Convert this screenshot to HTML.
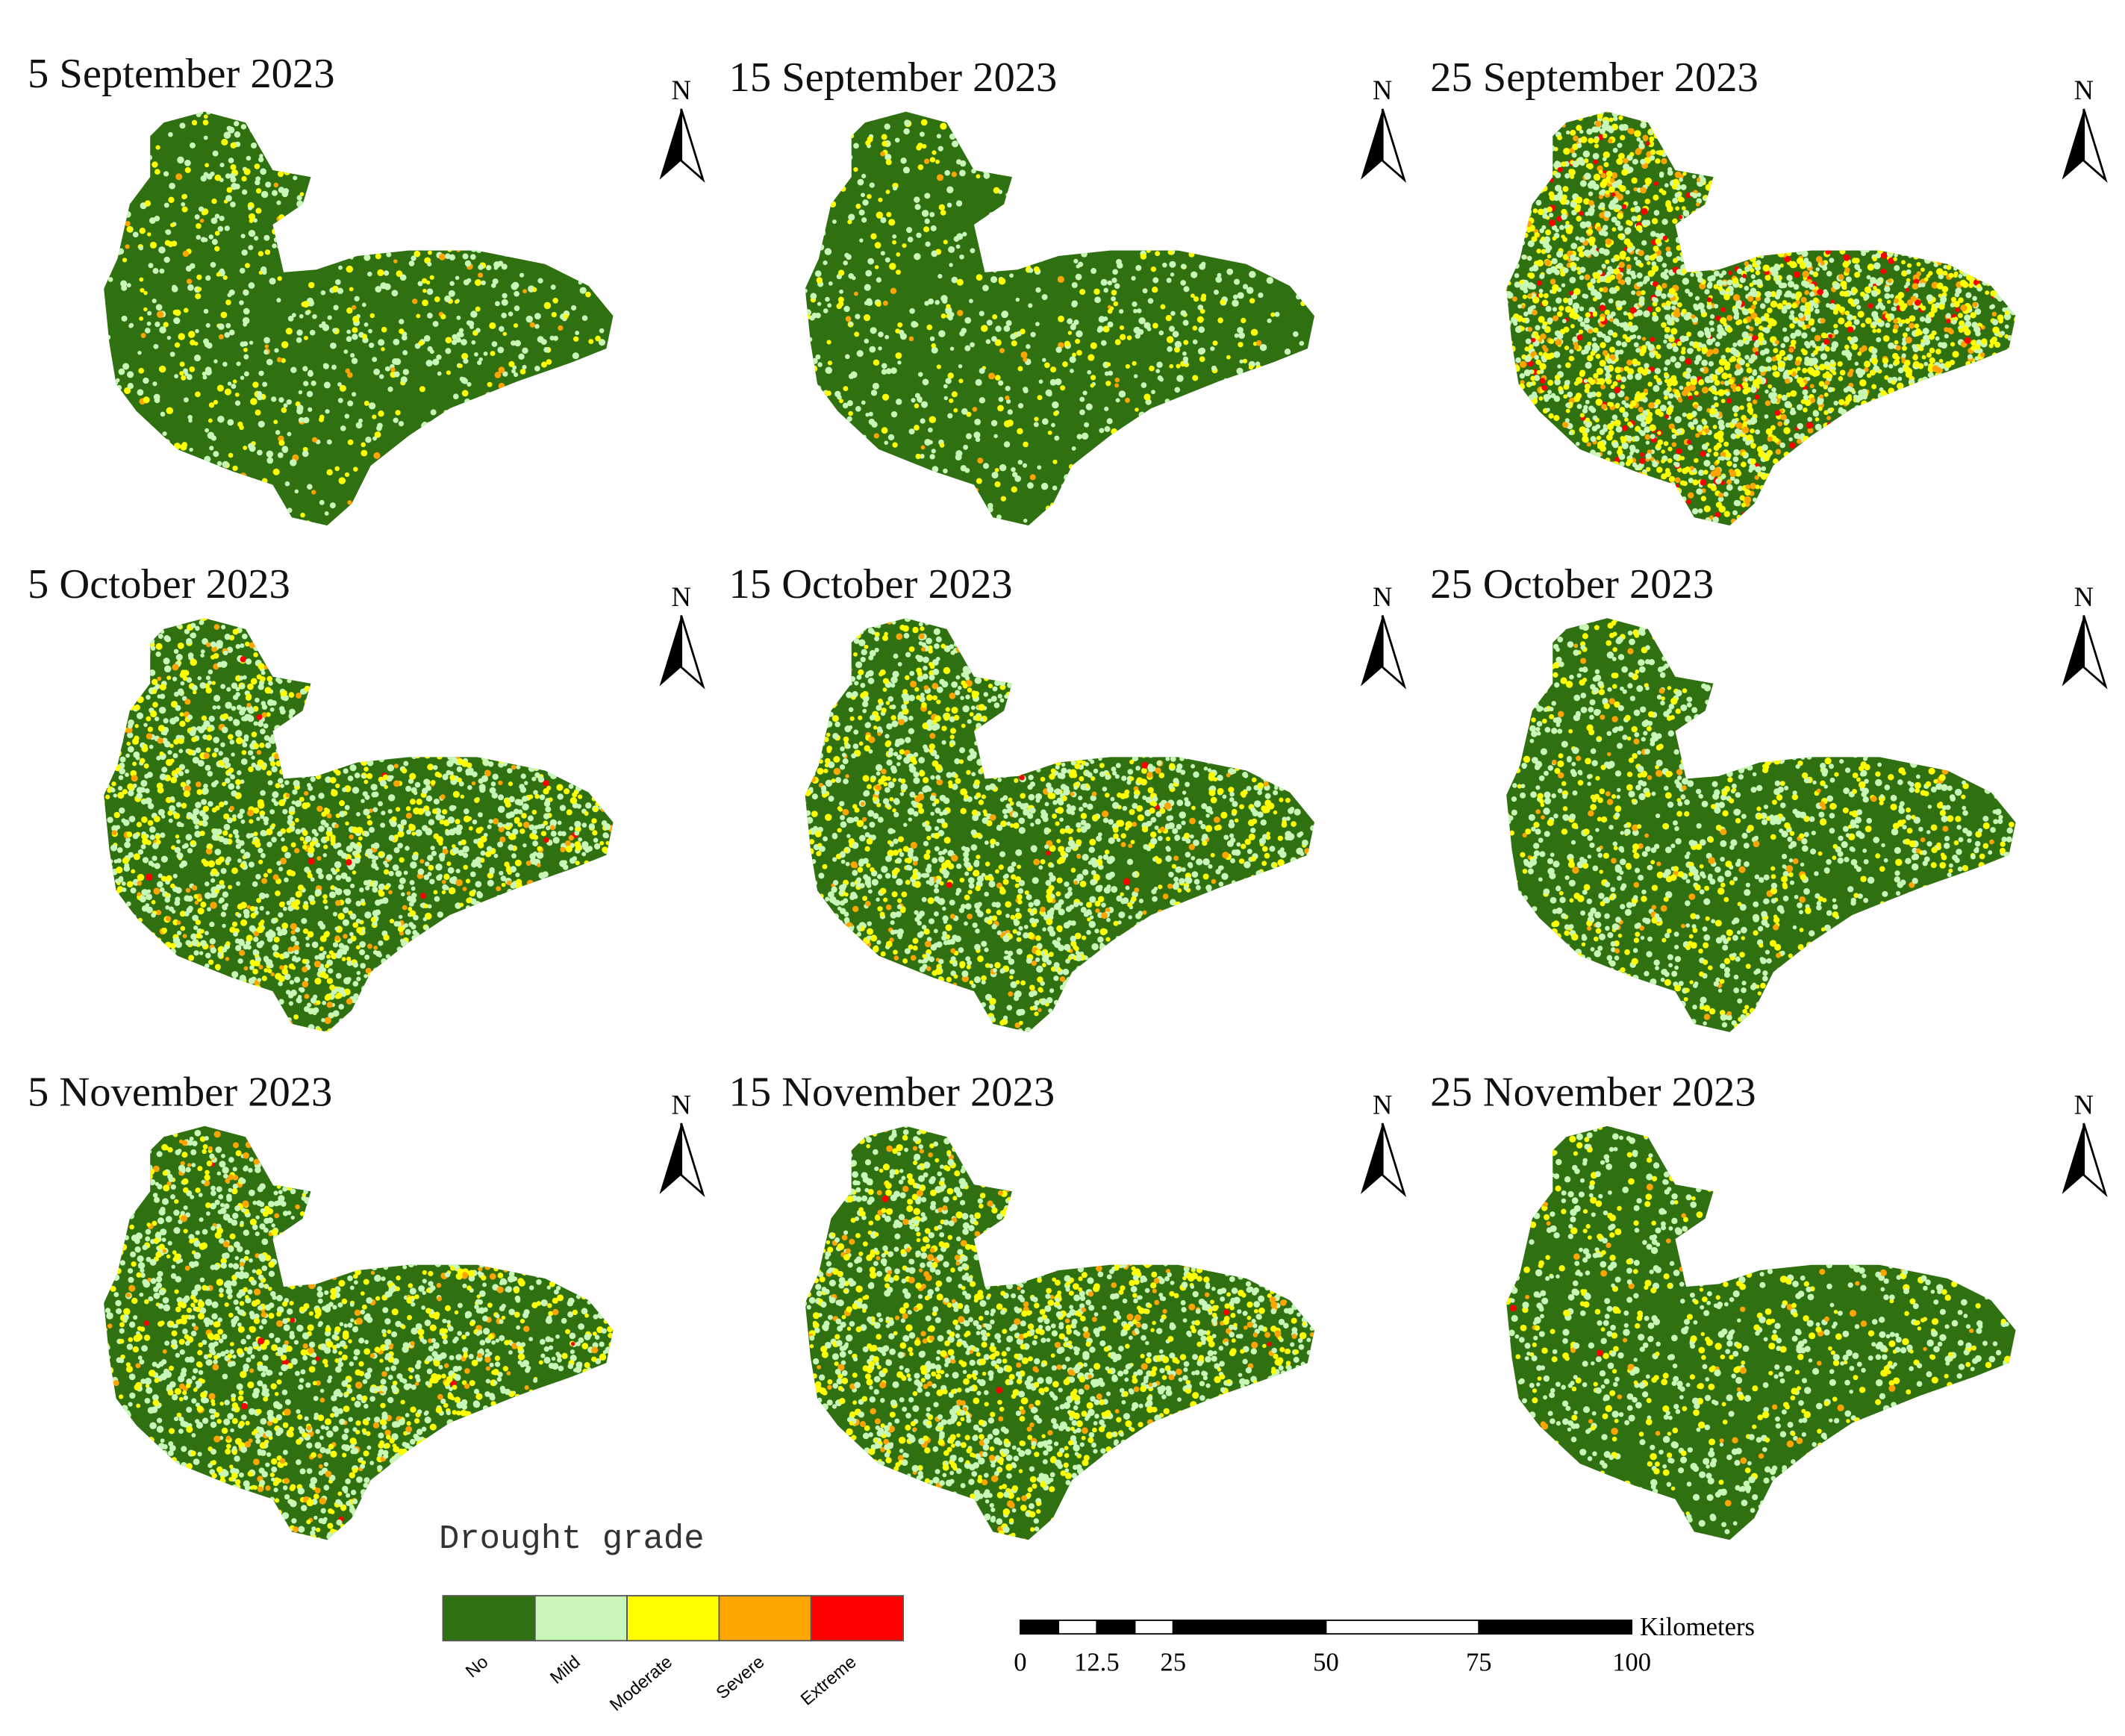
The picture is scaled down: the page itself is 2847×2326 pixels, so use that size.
<!DOCTYPE html>
<html><head><meta charset="utf-8"><style>
html,body{margin:0;padding:0;background:#fff;overflow:hidden;width:2847px;height:2326px}
svg{display:block}
text{font-family:"Liberation Serif",serif}
</style></head><body>
<svg id="fig" width="2847" height="2326" viewBox="0 0 1560 1275" xmlns="http://www.w3.org/2000/svg">
<defs>
<clipPath id="shapeClip"><polygon id="shapePoly" points="120,90 150,82 180,90 200,125 228,130 222,150 200,165 208,200 232,198 262,188 300,184 350,184 400,194 432,210 450,232 445,256 420,266 380,280 330,300 300,320 272,342 258,370 240,386 214,380 200,356 170,346 130,330 100,302 85,282 80,252 76,212 86,190 95,150 110,130 110,100"/></clipPath>
</defs>
<g id="panels"></g>
<g>
<text x="322" y="1137" style="font-family:'Liberation Mono',monospace" font-size="25" fill="#333">Drought grade</text>
<g id="legendBoxes"></g>
</g>
<g id="scaleBar"></g>
</svg>
<script>
const dates=["5 September 2023","15 September 2023","25 September 2023","5 October 2023","15 October 2023","25 October 2023","5 November 2023","15 November 2023","25 November 2023"];
// fraction of area (as speckle density) per grade: mild, moderate, severe, extreme
const mildFrac=[0.14,0.12,0.34,0.32,0.32,0.22,0.32,0.32,0.18];
const moderateFrac=[0.07,0.06,0.30,0.16,0.17,0.11,0.18,0.18,0.08];
const severeFrac=[0.01,0.01,0.10,0.04,0.04,0.02,0.05,0.05,0.015];
const extremeFrac=[0.0,0.0,0.04,0.004,0.002,0.0,0.003,0.003,0.002];
const gradeNames=["No","Mild","Moderate","Severe","Extreme"];
const gradeColors=["#2f7010","#c8f7b8","#ffff00","#ffa500","#ff0000"];
const scaleTicks=["0","12.5","25","50","75","100"];
const scaleVals=[0,12.5,25,50,75,100];

const NS="http://www.w3.org/2000/svg";
function mk(t,a,p){const e=document.createElementNS(NS,t);for(const k in a)e.setAttribute(k,a[k]);p.appendChild(e);return e;}
const panels=document.getElementById('panels');
const colX=[0,515,1030], rowY=[0,372,745];
let seed=7;function rnd(){seed=(seed*16807)%2147483647;return seed/2147483647;}
dates.forEach((d,i)=>{
  const ox=colX[i%3], oy=rowY[Math.floor(i/3)];
  const g=mk('g',{transform:`translate(${ox},${oy})`},panels);
  
  
  const t=mk('text',{x:20,y:(i===0?64:67),'font-size':31,fill:'#111'},g);
  
  
  t.textContent=d;
  const base=mk('use',{href:'#shapePoly',fill:gradeColors[0]},g);
  
  
  const sp=mk('g',{},g);
  sp.setAttribute('clip-path','url(#shapeClip)');
  
  
  const N=6500;
  const fr=[mildFrac[i],moderateFrac[i],severeFrac[i],extremeFrac[i]];
  for(let k=0;k<N;k++){
    const x=74+rnd()*380,y=80+rnd()*308;
    let r=rnd(),c=null,acc=0;
    for(let j=0;j<4;j++){acc+=fr[j];if(r<acc){c=j+1;break;}}
    if(c===null)continue;
    mk('circle',{cx:x.toFixed(1),cy:y.toFixed(1),r:(1.5+rnd()*1.1).toFixed(1),fill:gradeColors[c]},sp);
  }
  const na=mk('g',{transform:'translate(500,0)'},g);
  
  
  mk('text',{x:0,y:73,'font-size':20,'text-anchor':'middle',fill:'#000'},na).textContent='N';
  const by=80;
  mk('polygon',{points:`0,${by} -16,${by+52} 0,${by+38}`,fill:'#000'},na);
  mk('polygon',{points:`0,${by} 16,${by+52} 0,${by+38}`,fill:'#fff',stroke:'#000','stroke-width':1.5},na);
});
const lb=document.getElementById('legendBoxes');
gradeNames.forEach((n,i)=>{
  const x=325+i*67.6;
  const r=mk('rect',{x:x,y:1172,width:67.6,height:33,fill:gradeColors[i],stroke:'#555','stroke-width':1},lb);
  
  
  const t=mk('text',{x:x+34,y:1222,'font-size':13,'text-anchor':'end',transform:`rotate(-40 ${x+34} 1222)`,style:"font-family:'Liberation Sans',sans-serif"},lb);
  
  
  t.textContent=n;
});
const sb=document.getElementById('scaleBar');
const sx=v=>749+v*4.49;
const segs=[0,6.25,12.5,18.75,25,50,75,100];
for(let i=0;i<segs.length-1;i++){
  mk('rect',{x:sx(segs[i]),y:1190,width:sx(segs[i+1])-sx(segs[i]),height:10,fill:i%2?'#fff':'#000',stroke:'#000','stroke-width':1},sb);
}
scaleVals.forEach((v,i)=>{
  const t=mk('text',{x:sx(v),y:1227,'font-size':19,'text-anchor':'middle'},sb);
  
  
  t.textContent=scaleTicks[i];
});
const kt=mk('text',{x:1204,y:1201,'font-size':19},sb);


kt.textContent='Kilometers';
</script>
</body></html>
